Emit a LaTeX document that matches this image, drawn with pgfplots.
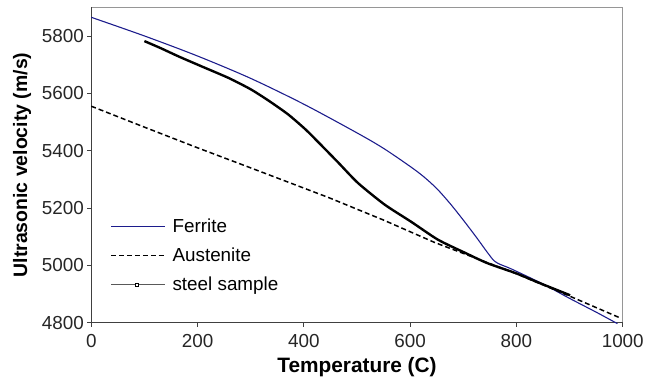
\documentclass[border=0pt]{standalone}
\usepackage{fontspec}
\setmainfont{Liberation Sans}
\usepackage{pgfplots}
\pgfplotsset{compat=1.18}
\definecolor{ferrite}{RGB}{28,28,140}
\definecolor{axgray}{RGB}{150,150,150}
\begin{document}
\begin{tikzpicture}
\begin{axis}[
  scale only axis,
  width=534bp, height=317bp,
  xmin=0, xmax=1000, ymin=4800, ymax=5900,
  xtick={0,200,...,1000},
  ytick={4800,5000,...,5800},
  tick align=outside,
  major tick length=4bp,
  tick style={black!75, line width=0.8pt},
  x tick label style={/pgf/number format/1000 sep={}, yshift=-4bp},
  y tick label style={/pgf/number format/1000 sep={}},
  /pgf/number format/assume math mode=true,
  ticklabel style={font=\fontsize{19}{21}\selectfont, text=black!85},
  xtick pos=bottom, ytick pos=left,
  axis line style={axgray, line width=1pt},
  xlabel={\textbf{Temperature (C)}},
  ylabel={\textbf{Ultrasonic velocity (m/s)}},
  xlabel style={font=\fontsize{21}{22}\selectfont, yshift=-3bp},
  ylabel style={font=\fontsize{19.6}{21}\selectfont, yshift=4bp},
  clip=false,
  legend style={draw=none, fill=none, at={(axis cs:30,5176)}, anchor=north west,
    font=\fontsize{19}{21}\selectfont, row sep=10bp,
    /tikz/every even column/.append style={column sep=0bp}},
  legend cell align=left,
]
\coordinate (ll) at (rel axis cs:0,0);
\draw[black!75, line width=1.2pt] (rel axis cs:0,1) -- (rel axis cs:0,0) -- (rel axis cs:1,0);
\addplot[ferrite, line width=1.1pt, smooth, tension=0.5,
  legend image code/.code={\draw[ferrite, line width=1.1pt] (0bp,0bp) -- (54bp,0bp);}]
coordinates {
(0,5865) (100,5800) (200,5730) (300,5652) (400,5562) (500,5462) (550,5408) (600,5345)
(625,5310) (650,5268) (675,5216) (700,5158) (725,5097) (745,5046) (758,5016) (770,5003)
(790,4988) (850,4935) (900,4885) (950,4837) (990,4797)
};
\addlegendentry{\hspace{5bp}Ferrite}
\addplot[black, line width=1.5pt, dash pattern=on 5pt off 3pt,
  legend image code/.code={\draw[black, line width=1.5pt, dash pattern=on 5pt off 3pt] (0bp,0bp) -- (54bp,0bp);}]
coordinates {
(0,5555) (100,5482) (200,5410) (300,5340) (446,5237) (550,5158) (646,5080) (800,4971) (900,4893) (995,4817)
};
\addlegendentry{\hspace{5bp}Austenite}
\addplot[black, line width=2.4pt, smooth, tension=0.4,
  legend image code/.code={\draw[black!65, line width=0.7pt] (0bp,0bp) -- (54bp,0bp);
    \draw[black, fill=white, line width=0.6pt] (24bp,-1.5bp) rectangle (27bp,1.5bp);}]
coordinates {
(100,5782) (130,5758) (165,5728) (210,5692) (259,5653) (300,5614) (334,5574) (370,5527)
(402,5476) (427,5430) (465,5358) (502,5287) (552,5212) (602,5152) (652,5090) (702,5045)
(745,5008) (800,4972) (839,4942) (901,4896)
};
\addlegendentry{\hspace{5bp}steel sample}
\end{axis}
\path (ll) ++(-91.7bp,-68.7bp) rectangle ++(647bp,393bp);
\end{tikzpicture}
\end{document}
